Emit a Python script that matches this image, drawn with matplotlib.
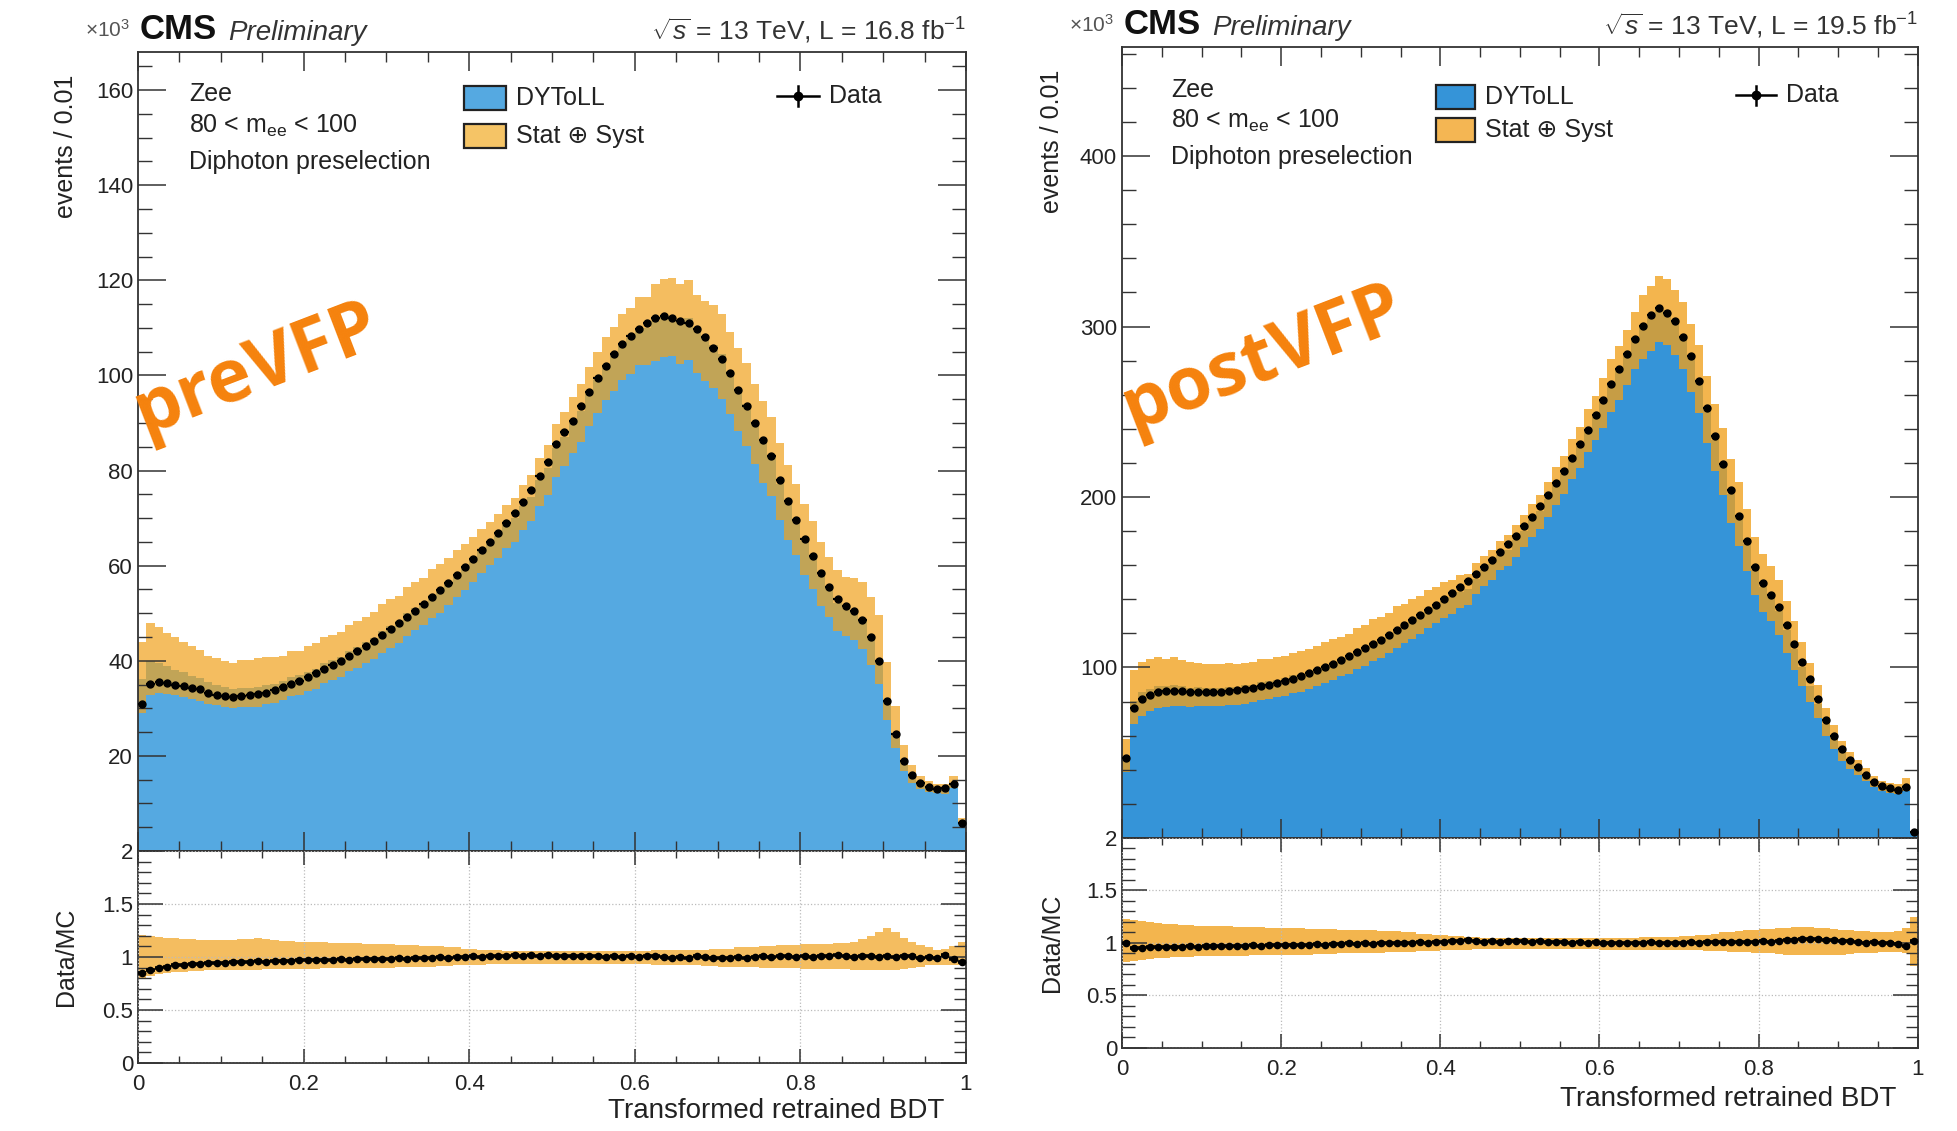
import numpy as np
import matplotlib
matplotlib.use("Agg")
import matplotlib.pyplot as plt
from matplotlib.patches import Rectangle
from matplotlib.ticker import MultipleLocator

plt.rcParams["font.family"] = ["Liberation Sans", "DejaVu Sans"]
plt.rcParams["mathtext.fontset"] = "custom"
plt.rcParams["mathtext.rm"] = "Liberation Sans"
plt.rcParams["mathtext.it"] = "Liberation Sans:italic"
plt.rcParams["mathtext.bf"] = "Liberation Sans:bold"

# 100 bins of width 0.01 in the transformed BDT score
edges = np.linspace(0.0, 1.0, 101)

# ---------------- preVFP (x10^3 events / 0.01) ----------------
pre_data = [
    30.8, 35.2, 35.6, 35.4, 35.0, 34.6, 34.2, 34.0, 33.3, 32.8,
    32.5, 32.4, 32.6, 32.8, 33.0, 33.3, 33.8, 34.4, 35.1, 35.8,
    36.6, 37.4, 38.3, 39.2, 40.0, 41.0, 42.0, 43.1, 44.2, 45.4,
    46.6, 47.9, 49.2, 50.5, 51.9, 53.3, 54.8, 56.3, 58.0, 59.7,
    61.4, 63.2, 65.0, 66.9, 68.9, 71.0, 73.3, 76.0, 78.8, 81.7,
    85.5, 88.0, 90.5, 93.5, 96.5, 99.5, 102.0, 104.5, 106.5, 108.3,
    109.8, 111.0, 112.0, 112.4, 112.0, 111.4, 111.0, 109.8, 108.0, 105.8,
    103.5, 100.5, 97.0, 93.6, 90.0, 86.5, 83.0, 78.0, 73.5, 69.5,
    65.5, 62.0, 58.5, 55.5, 53.0, 51.5, 50.4, 48.5, 45.0, 40.0,
    31.5, 24.5, 19.0, 16.0, 14.2, 13.5, 13.1, 13.3, 14.0, 5.8,
]
pre_ratio = [
    0.85, 0.88, 0.90, 0.91, 0.92, 0.92, 0.93, 0.935, 0.94, 0.94,
    0.945, 0.95, 0.95, 0.955, 0.96, 0.955, 0.96, 0.965, 0.96, 0.97,
    0.97, 0.975, 0.97, 0.975, 0.98, 0.975, 0.98, 0.98, 0.985, 0.98,
    0.985, 0.99, 0.985, 0.99, 0.995, 0.99, 1.0, 0.995, 1.0, 1.0,
    1.005, 1.0, 1.005, 1.01, 1.005, 1.015, 1.01, 1.02, 1.01, 1.015,
    1.01, 1.01, 1.005, 1.01, 1.005, 1.005, 1.0, 1.005, 1.0, 1.005,
    1.0, 1.01, 1.005, 1.0, 0.995, 1.0, 0.99, 1.005, 1.0, 0.995,
    0.99, 0.995, 1.0, 0.995, 1.0, 1.005, 1.0, 1.01, 1.005, 1.0,
    1.005, 1.0, 1.01, 1.005, 1.015, 1.01, 1.0, 1.005, 1.01, 1.0,
    1.005, 1.0, 1.01, 1.005, 0.995, 1.0, 0.99, 1.02, 0.98, 0.95,
]
pre_up = [
    1.21, 1.20, 1.19, 1.18, 1.18, 1.17, 1.17, 1.16, 1.16, 1.16,
    1.16, 1.16, 1.17, 1.17, 1.18, 1.17, 1.16, 1.15, 1.15, 1.14,
    1.14, 1.14, 1.14, 1.13, 1.13, 1.13, 1.13, 1.12, 1.12, 1.12,
    1.12, 1.11, 1.11, 1.11, 1.10, 1.10, 1.10, 1.09, 1.09, 1.08,
    1.08, 1.07, 1.07, 1.07, 1.06, 1.06, 1.06, 1.06, 1.06, 1.06,
    1.06, 1.06, 1.06, 1.06, 1.06, 1.06, 1.06, 1.06, 1.06, 1.06,
    1.06, 1.06, 1.07, 1.07, 1.07, 1.07, 1.07, 1.07, 1.07, 1.08,
    1.08, 1.08, 1.09, 1.09, 1.09, 1.10, 1.10, 1.11, 1.11, 1.11,
    1.12, 1.12, 1.12, 1.12, 1.13, 1.13, 1.14, 1.17, 1.20, 1.24,
    1.27, 1.24, 1.18, 1.14, 1.11, 1.09, 1.07, 1.08, 1.10, 1.14,
]
pre_dn = [
    0.80, 0.82, 0.84, 0.85, 0.86, 0.86, 0.87, 0.87, 0.875, 0.88,
    0.88, 0.88, 0.88, 0.88, 0.88, 0.885, 0.885, 0.89, 0.89, 0.89,
    0.89, 0.89, 0.895, 0.895, 0.895, 0.90, 0.90, 0.90, 0.90, 0.90,
    0.90, 0.905, 0.905, 0.91, 0.91, 0.91, 0.915, 0.915, 0.92, 0.92,
    0.925, 0.925, 0.93, 0.93, 0.93, 0.93, 0.93, 0.93, 0.93, 0.93,
    0.93, 0.93, 0.93, 0.93, 0.93, 0.93, 0.93, 0.93, 0.93, 0.93,
    0.93, 0.93, 0.925, 0.925, 0.925, 0.92, 0.92, 0.92, 0.915, 0.915,
    0.91, 0.91, 0.91, 0.905, 0.905, 0.90, 0.90, 0.90, 0.895, 0.895,
    0.89, 0.89, 0.89, 0.89, 0.885, 0.885, 0.88, 0.88, 0.88, 0.88,
    0.88, 0.88, 0.89, 0.90, 0.91, 0.92, 0.92, 0.92, 0.92, 0.92,
]

# ---------------- postVFP (x10^3 events / 0.01) ----------------
post_data = [
    47.0, 76.5, 81.5, 84.0, 85.4, 86.0, 86.2, 86.0, 85.6, 85.5,
    85.5, 85.4, 85.6, 86.0, 86.5, 87.2, 88.0, 89.0, 90.0, 91.0,
    92.2, 93.5, 95.0, 96.6, 98.4, 100.2, 102.2, 104.3, 106.5, 108.8,
    111.2, 113.7, 116.3, 119.0, 121.8, 124.7, 127.6, 130.6, 133.7, 136.9,
    140.2, 143.6, 147.1, 150.7, 155.0, 159.0, 163.3, 167.8, 172.4, 177.2,
    183.0, 188.5, 194.5, 201.0, 208.0, 215.5, 223.0, 231.0, 239.5, 248.0,
    257.0, 266.0, 275.0, 284.0, 292.5, 300.5, 307.0, 311.0, 308.0, 303.0,
    294.0, 283.0, 268.0, 252.0, 236.0, 219.5, 204.0, 189.0, 174.0, 159.0,
    149.5, 142.5, 135.5, 125.0, 114.0, 103.5, 93.0, 81.5, 69.0, 60.0,
    52.0, 46.0, 41.5, 37.0, 33.0, 30.5, 29.2, 28.2, 30.0, 3.5,
]
post_ratio = [
    1.0, 0.95, 0.955, 0.96, 0.96, 0.965, 0.96, 0.965, 0.97, 0.965,
    0.97, 0.97, 0.975, 0.97, 0.975, 0.975, 0.98, 0.975, 0.98, 0.98,
    0.985, 0.98, 0.985, 0.985, 0.99, 0.985, 0.99, 0.99, 0.995, 0.99,
    0.995, 0.99, 0.995, 1.0, 0.995, 1.0, 1.0, 1.005, 1.0, 1.005,
    1.01, 1.015, 1.02, 1.03, 1.02, 1.01, 1.015, 1.01, 1.02, 1.015,
    1.015, 1.01, 1.015, 1.01, 1.005, 1.01, 1.0, 1.005, 1.0, 1.005,
    1.0, 0.995, 1.0, 1.0, 0.995, 1.0, 1.005, 1.0, 0.995, 1.0,
    1.0, 1.005, 1.0, 1.005, 1.01, 1.005, 1.01, 1.005, 1.01, 1.01,
    1.015, 1.01, 1.02, 1.025, 1.03, 1.035, 1.04, 1.035, 1.03, 1.025,
    1.02, 1.02, 1.01, 1.0, 1.005, 1.0, 1.0, 0.99, 0.97, 1.02,
]
post_up = [
    1.23, 1.22, 1.21, 1.20, 1.19, 1.18, 1.18, 1.17, 1.17, 1.16,
    1.16, 1.16, 1.16, 1.16, 1.15, 1.15, 1.15, 1.15, 1.14, 1.14,
    1.14, 1.14, 1.14, 1.13, 1.13, 1.13, 1.13, 1.12, 1.12, 1.12,
    1.12, 1.12, 1.11, 1.11, 1.11, 1.10, 1.10, 1.09, 1.09, 1.08,
    1.08, 1.07, 1.07, 1.06, 1.06, 1.05, 1.05, 1.05, 1.05, 1.05,
    1.05, 1.05, 1.05, 1.05, 1.05, 1.05, 1.05, 1.05, 1.05, 1.05,
    1.05, 1.05, 1.05, 1.05, 1.05, 1.06, 1.06, 1.06, 1.06, 1.06,
    1.07, 1.07, 1.08, 1.08, 1.09, 1.10, 1.10, 1.11, 1.12, 1.12,
    1.13, 1.13, 1.14, 1.14, 1.15, 1.15, 1.15, 1.14, 1.14, 1.13,
    1.12, 1.12, 1.11, 1.11, 1.10, 1.10, 1.10, 1.11, 1.14, 1.25,
]
post_dn = [
    0.82, 0.83, 0.84, 0.85, 0.855, 0.86, 0.865, 0.87, 0.87, 0.875,
    0.875, 0.88, 0.88, 0.88, 0.88, 0.88, 0.885, 0.885, 0.885, 0.89,
    0.89, 0.89, 0.89, 0.89, 0.895, 0.895, 0.895, 0.90, 0.90, 0.90,
    0.90, 0.905, 0.905, 0.91, 0.91, 0.915, 0.915, 0.92, 0.92, 0.925,
    0.93, 0.93, 0.935, 0.935, 0.94, 0.94, 0.94, 0.945, 0.945, 0.945,
    0.945, 0.945, 0.945, 0.945, 0.945, 0.945, 0.945, 0.945, 0.945, 0.945,
    0.935, 0.935, 0.935, 0.935, 0.935, 0.935, 0.935, 0.935, 0.935, 0.935,
    0.935, 0.93, 0.93, 0.925, 0.92, 0.92, 0.915, 0.91, 0.91, 0.905,
    0.90, 0.90, 0.895, 0.89, 0.89, 0.89, 0.89, 0.89, 0.89, 0.89,
    0.89, 0.895, 0.90, 0.90, 0.905, 0.91, 0.91, 0.91, 0.90, 0.78,
]

AXIS_COLOR = "#333333"
TEXT_COLOR = "#222222"


def style_axis(ax, ymajor, yminor, xlen, ylen):
    ax.set_xlim(0, 1)
    ax.xaxis.set_major_locator(MultipleLocator(0.2))
    ax.xaxis.set_minor_locator(MultipleLocator(0.05))
    ax.yaxis.set_major_locator(MultipleLocator(ymajor))
    ax.yaxis.set_minor_locator(MultipleLocator(yminor))
    ax.tick_params(which="both", direction="in", top=True, right=True,
                   colors=AXIS_COLOR, labelcolor=TEXT_COLOR, labelsize=16)
    ax.tick_params(axis="x", which="major", length=xlen, width=1.1)
    ax.tick_params(axis="x", which="minor", length=xlen / 2, width=1.0)
    ax.tick_params(axis="y", which="major", length=ylen, width=1.1)
    ax.tick_params(axis="y", which="minor", length=ylen / 2, width=1.0)
    for sp in ax.spines.values():
        sp.set_color(AXIS_COLOR)
        sp.set_linewidth(1.3)


def draw_panel(fig, main_rect, ratio_rect, data, ratio, up, dn, cfg):
    data = np.array(data)
    ratio = np.array(ratio)
    up = np.array(up)
    dn = np.array(dn)
    centers = 0.5 * (edges[1:] + edges[:-1])

    mc = data / ratio

    ax = fig.add_axes(main_rect)
    rx = fig.add_axes(ratio_rect, sharex=ax)

    # main pad
    ax.stairs(mc, edges, baseline=0, fill=True, color=cfg["blue"], zorder=1)
    ax.stairs(mc * up, edges, baseline=mc * dn, fill=True,
              color=cfg["orange"], alpha=cfg["alpha"], lw=0, zorder=1.5)
    ax.errorbar(centers, data, xerr=0.005, fmt="o", ms=5, color="black",
                lw=1.6, capsize=0, zorder=3)
    ax.set_ylim(0, cfg["ymax"])
    style_axis(ax, cfg["ymajor"], cfg["yminor"], 14, 20)
    ax.set_yticks(np.arange(cfg["ymajor"], cfg["ymax"], cfg["ymajor"]))
    ax.tick_params(axis="x", labelbottom=False)

    # ratio pad
    rx.stairs(up, edges, baseline=dn, fill=True, color=cfg["orange"],
              alpha=cfg["alpha"], lw=0, zorder=1)
    rx.errorbar(centers, ratio, xerr=0.005, fmt="o", ms=4.5, color="black",
                lw=2.6, capsize=0, zorder=3)
    rx.set_ylim(0, 2)
    style_axis(rx, 0.5, 0.1, 10, 18)
    rx.set_yticks([0, 0.5, 1, 1.5, 2])
    rx.set_yticklabels(["0", "0.5", "1", "1.5", "2"])
    rx.set_xticks([0, 0.2, 0.4, 0.6, 0.8, 1.0])
    rx.set_xticklabels(["0", "0.2", "0.4", "0.6", "0.8", "1"])
    rx.tick_params(axis="x", pad=8)
    rx.grid(True, which="major", color="#bbbbbb", ls=":", lw=0.9)
    rx.set_axisbelow(False)

    # labels in the pads
    for txt, yy in zip(["Zee", r"80 < m$_{\mathrm{ee}}$ < 100",
                        "Diphoton preselection"], cfg["text_y"]):
        ax.text(0.062, yy, txt, transform=ax.transAxes, fontsize=18,
                color=TEXT_COLOR, va="center", ha="left")

    # legend
    sw_x, sw_w, sw_h = 0.394, 0.050, 0.030
    for (yy, col, lab) in [(cfg["leg_y"][0], cfg["blue"], "DYToLL"),
                           (cfg["leg_y"][1], cfg["orange_swatch"],
                            "Stat \u2295 Syst")]:
        ax.add_patch(Rectangle((sw_x, yy - sw_h / 2), sw_w, sw_h,
                               transform=ax.transAxes, facecolor=col,
                               edgecolor="#222222", lw=1.6, zorder=5))
        ax.text(0.456, yy, lab, transform=ax.transAxes, fontsize=18,
                color=TEXT_COLOR, va="center", ha="left")
    dy = cfg["leg_y"][0] + 0.002
    ax.plot([0.772, 0.822], [dy, dy], color="black", lw=1.8,
            transform=ax.transAxes, zorder=5)
    ax.plot([0.797, 0.797], [dy - 0.012, dy + 0.012], color="black", lw=1.8,
            transform=ax.transAxes, zorder=5)
    ax.plot([0.797], [dy], "o", color="black", ms=6,
            transform=ax.transAxes, zorder=6)
    ax.text(0.834, dy, "Data", transform=ax.transAxes, fontsize=18,
            color=TEXT_COLOR, va="center", ha="left")

    # header
    l, b, w, h = main_rect
    top = b + h
    fig.text(l - 0.004, top + 0.010, r"$\times$10$^{3}$", fontsize=15,
             color="#555555", ha="right", va="bottom")
    fig.text(l + 0.001, top + 0.005, "CMS", fontsize=25, fontweight="bold",
             color="#111111", ha="left", va="bottom")
    fig.text(l + 0.046, top + 0.005, "Preliminary", fontsize=20,
             style="italic", color="#333333", ha="left", va="bottom")
    fig.text(l + w, top + 0.005, cfg["lumi"], fontsize=19,
             color="#333333", ha="right", va="bottom")

    # axis titles
    fig.text(cfg["ylab_x"], top - 0.020, "events / 0.01", rotation=90,
             fontsize=18, color=TEXT_COLOR, ha="center", va="top")
    rl, rb, rw, rh = ratio_rect
    fig.text(cfg["ylab_x"], rb + rh / 2, "Data/MC", rotation=90,
             fontsize=18, color=TEXT_COLOR, ha="center", va="center")
    fig.text(l + w - 0.011, cfg["xlab_y"], "Transformed retrained BDT",
             fontsize=20, color=TEXT_COLOR, ha="right", va="center")

    # era watermark
    fig.text(cfg["mark_xy"][0], cfg["mark_xy"][1], cfg["mark"],
             fontsize=53, fontweight="bold", family=["Open Sans", "DejaVu Sans"],
             color="#f5820d", rotation=21, ha="center", va="center", zorder=10)


fig = plt.figure(figsize=(19.57, 11.31), dpi=100)

pre_cfg = dict(
    blue="#55a9e1", orange="#f0a21c", orange_swatch="#f5c466", alpha=0.70,
    ymax=168, ymajor=20, yminor=5,
    text_y=[0.948, 0.908, 0.862], leg_y=[0.943, 0.895],
    lumi=r"$\sqrt{s}$ = 13 TeV, L = 16.8 fb$^{-1}$",
    ylab_x=0.0335, xlab_y=0.0175,
    mark="preVFP", mark_xy=(0.131, 0.672),
)
post_cfg = dict(
    blue="#3594d8", orange="#f0a01c", orange_swatch="#f4b653", alpha=0.78,
    ymax=464, ymajor=100, yminor=20,
    text_y=[0.946, 0.907, 0.861], leg_y=[0.937, 0.895],
    lumi=r"$\sqrt{s}$ = 13 TeV, L = 19.5 fb$^{-1}$",
    ylab_x=0.5375, xlab_y=0.028,
    mark="postVFP", mark_xy=(0.645, 0.682),
)

draw_panel(fig, [0.0705, 0.2476, 0.4231, 0.7064],
           [0.0705, 0.0601, 0.4231, 0.1875],
           pre_data, pre_ratio, pre_up, pre_dn, pre_cfg)
draw_panel(fig, [0.5733, 0.2591, 0.4067, 0.6994],
           [0.5733, 0.0734, 0.4067, 0.1857],
           post_data, post_ratio, post_up, post_dn, post_cfg)

fig.savefig("out.png", dpi=100)
